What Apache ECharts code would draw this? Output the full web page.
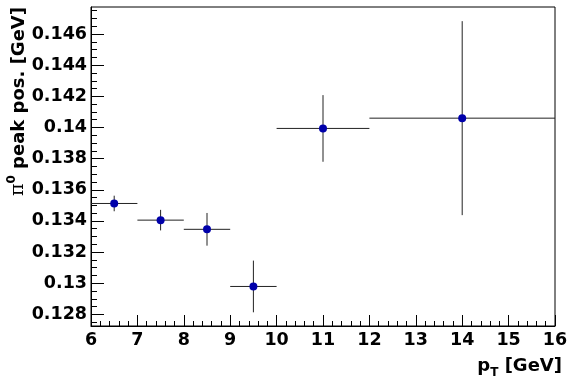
<!DOCTYPE html>
<html>
<head>
<meta charset="utf-8">
<script src="https://cdn.jsdelivr.net/npm/echarts@6/dist/echarts.min.js"></script>
<style>html,body{margin:0;padding:0;background:#fff;}#c{width:567px;height:384px;}</style>
</head>
<body>
<div id="c"></div>
<script>
// Data
var xCenters = [6.5, 7.5, 8.5, 9.5, 11, 14];
var xErrors  = [0.5, 0.5, 0.5, 0.5, 1, 2];
var yValues  = [0.13512, 0.13405, 0.13346, 0.12979, 0.13994, 0.14060];
var yErrors  = [0.00050, 0.00066, 0.00105, 0.00166, 0.00214, 0.00623];
var yMajorTicks = [0.128, 0.130, 0.132, 0.134, 0.136, 0.138, 0.140, 0.142, 0.144, 0.146];
var yMinorTicks = [0.1275, 0.1285, 0.129, 0.1295, 0.1305, 0.131, 0.1315, 0.1325, 0.133, 0.1335,
  0.1345, 0.135, 0.1355, 0.1365, 0.137, 0.1375, 0.1385, 0.139, 0.1395, 0.1405, 0.141, 0.1415,
  0.1425, 0.143, 0.1435, 0.1445, 0.145, 0.1455, 0.1465, 0.147, 0.1475];
var xRange = [6, 16];
var yRange = [0.12725, 0.14774];

var FONT = 'DejaVu Sans';
var chart = echarts.init(document.getElementById('c'), null, {renderer: 'canvas'});

var points = xCenters.map(function (x, i) { return [x, yValues[i], xErrors[i], yErrors[i]]; });

var option = {
  animation: false,
  backgroundColor: '#fff',
  grid: {left: 91, right: 12, top: 7, bottom: 58, show: true, borderColor: '#000', borderWidth: 1,
    backgroundColor: 'transparent', containLabel: false, outerBoundsMode: 'none'},
  xAxis: {
    type: 'value', min: xRange[0], max: xRange[1], interval: 1,
    axisLine: {show: true, onZero: false, lineStyle: {color: '#000', width: 1}},
    axisTick: {show: true, inside: true, length: 11, lineStyle: {color: '#000'}},
    minorTick: {show: true, splitNumber: 5, length: 5, lineStyle: {color: '#000'}},
    splitLine: {show: false},
    axisLabel: {color: '#000', fontFamily: FONT, fontWeight: 'bold', fontSize: 17.5, margin: 5,
      showMinLabel: true, showMaxLabel: true, hideOverlap: false}
  },
  yAxis: [{
    type: 'value', min: yRange[0], max: yRange[1], position: 'left',
    axisLine: {show: true, onZero: false, lineStyle: {color: '#000', width: 1}},
    axisTick: {show: true, inside: true, length: 13, customValues: yMajorTicks, lineStyle: {color: '#000'}},
    splitLine: {show: false},
    axisLabel: {color: '#000', fontFamily: FONT, fontWeight: 'bold', fontSize: 17.5, margin: 4,
      customValues: yMajorTicks, showMinLabel: true, showMaxLabel: true}
  }, {
    type: 'value', min: yRange[0], max: yRange[1], position: 'left',
    axisLine: {show: false},
    axisTick: {show: true, inside: true, length: 6, customValues: yMinorTicks, lineStyle: {color: '#000'}},
    splitLine: {show: false},
    axisLabel: {show: false}
  }],
  graphic: [{
    type: 'text', x: 17, y: 7, rotation: Math.PI / 2,
    style: {
      text: '{pi|π}{sup|0}{t| peak pos. [GeV]}',
      align: 'right', verticalAlign: 'middle', fill: '#000',
      rich: {
        pi: {fontFamily: 'DejaVu Serif', fontWeight: 'normal', fontSize: 19, fill: '#000', lineHeight: 22, verticalAlign: 'bottom'},
        sup: {fontFamily: FONT, fontWeight: 'bold', fontSize: 12, fill: '#000', lineHeight: 22, verticalAlign: 'top'},
        t: {fontFamily: FONT, fontWeight: 'bold', fontSize: 18, fill: '#000', lineHeight: 22, verticalAlign: 'bottom'}
      }
    }
  }, {
    type: 'text', x: 562, y: 368,
    style: {
      text: '{t|p}{sub|T}{t| [GeV]}',
      align: 'right', verticalAlign: 'middle', fill: '#000',
      rich: {
        t: {fontFamily: FONT, fontWeight: 'bold', fontSize: 18, fill: '#000', lineHeight: 22, verticalAlign: 'top'},
        sub: {fontFamily: FONT, fontWeight: 'bold', fontSize: 12, fill: '#000', lineHeight: 22, verticalAlign: 'bottom'}
      }
    }
  }],
  series: [{
    type: 'custom',
    xAxisIndex: 0, yAxisIndex: 0,
    data: points,
    renderItem: function (params, api) {
      var x = api.value(0), y = api.value(1), ex = api.value(2), ey = api.value(3);
      var l = api.coord([x - ex, y]), r = api.coord([x + ex, y]);
      var t = api.coord([x, y + ey]), b = api.coord([x, y - ey]);
      return {
        type: 'group',
        children: [
          {type: 'line', shape: {x1: l[0], y1: l[1], x2: r[0], y2: r[1]}, style: {stroke: '#222', lineWidth: 1}},
          {type: 'line', shape: {x1: t[0], y1: t[1], x2: b[0], y2: b[1]}, style: {stroke: '#222', lineWidth: 1}}
        ]
      };
    },
    z: 2
  }, {
    type: 'scatter',
    xAxisIndex: 0, yAxisIndex: 0,
    data: xCenters.map(function (x, i) { return [x, yValues[i]]; }),
    symbol: 'circle', symbolSize: 8,
    itemStyle: {color: '#0000aa', opacity: 1},
    z: 3
  }]
};
chart.setOption(option);
</script>
</body>
</html>
